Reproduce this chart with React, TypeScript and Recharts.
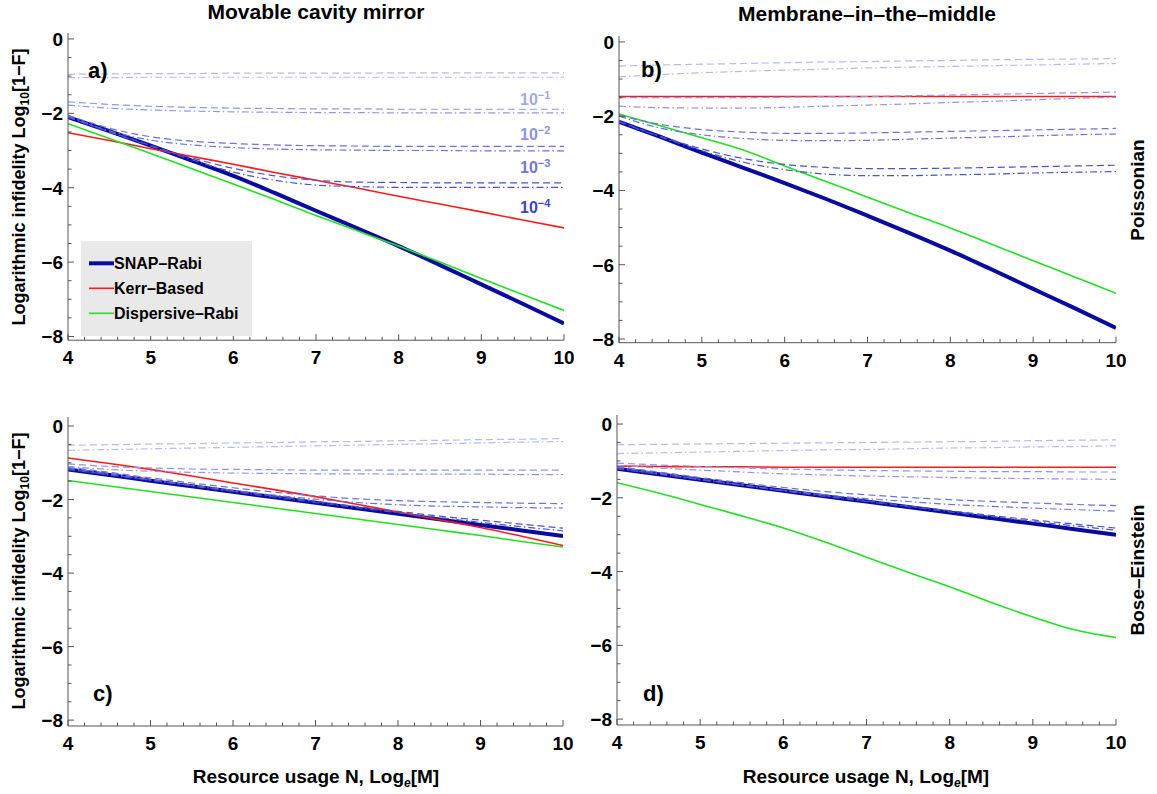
import { LineChart, Line, XAxis, YAxis, Legend } from "recharts";

const FONT = '"Liberation Sans", Arial, Helvetica, sans-serif';
const FRAME = "#555555";
const NAVY = "#0a0a9e";
const RED = "#ff1a1a";
const GREEN = "#22e022";
const NOISE_COLORS = ["#b6baf1", "#9196e6", "#6b72da", "#4a52cd"];
const NOISE_LABEL_COLORS = ["#a4a8ec", "#8e93e4", "#7178d8", "#3d45c6"];
const NOISE_LABELS = ["\u22121", "\u22122", "\u22123", "\u22124"];

// resource usage grid, Log_e[M]
const N = [4, 4.5, 5, 5.5, 6, 6.5, 7, 7.5, 8, 8.5, 9, 9.5, 10];

// a) movable cavity mirror, Poissonian
const A_SNAP = [-2.1, -2.48, -2.87, -3.27, -3.68, -4.14, -4.62, -5.09, -5.57, -6.08, -6.6, -7.12, -7.65];
const A_KERR = [-2.52, -2.73, -2.95, -3.16, -3.37, -3.59, -3.8, -4.01, -4.23, -4.44, -4.65, -4.87, -5.08];
const A_DISP = [-2.28, -2.68, -3.08, -3.49, -3.9, -4.32, -4.75, -5.16, -5.57, -6.0, -6.44, -6.87, -7.3];
const A_DASH_1 = [-0.95, -0.94, -0.93, -0.93, -0.92, -0.92, -0.92, -0.92, -0.91, -0.91, -0.91, -0.91, -0.91];
const A_DOT_1 = [-1.04, -1.04, -1.03, -1.03, -1.03, -1.03, -1.03, -1.03, -1.03, -1.03, -1.03, -1.03, -1.03];
const A_DASH_2 = [-1.69, -1.76, -1.81, -1.84, -1.86, -1.87, -1.88, -1.88, -1.89, -1.89, -1.89, -1.89, -1.89];
const A_DOT_2 = [-1.78, -1.86, -1.91, -1.94, -1.96, -1.97, -1.98, -1.98, -1.99, -1.99, -1.99, -1.99, -1.99];
const A_DASH_3 = [-2.05, -2.4, -2.63, -2.75, -2.81, -2.85, -2.87, -2.88, -2.89, -2.89, -2.89, -2.89, -2.89];
const A_DOT_3 = [-2.07, -2.47, -2.72, -2.85, -2.92, -2.96, -2.98, -2.99, -3.0, -3.0, -3.01, -3.01, -3.01];
const A_DASH_4 = [-2.1, -2.49, -2.86, -3.2, -3.48, -3.68, -3.8, -3.85, -3.86, -3.87, -3.87, -3.87, -3.87];
const A_DOT_4 = [-2.11, -2.5, -2.88, -3.25, -3.58, -3.8, -3.93, -3.97, -3.99, -3.99, -3.99, -3.99, -3.99];

// b) membrane-in-the-middle, Poissonian
const B_SNAP = [-2.15, -2.56, -2.98, -3.39, -3.8, -4.23, -4.68, -5.14, -5.62, -6.13, -6.65, -7.17, -7.7];
const B_KERR = [-1.47, -1.47, -1.47, -1.47, -1.47, -1.47, -1.47, -1.47, -1.47, -1.47, -1.47, -1.47, -1.47];
const B_DISP = [-1.94, -2.26, -2.58, -2.91, -3.34, -3.76, -4.18, -4.6, -5.01, -5.45, -5.89, -6.33, -6.77];
const B_DASH_1 = [-0.65, -0.62, -0.6, -0.58, -0.56, -0.54, -0.53, -0.51, -0.5, -0.48, -0.47, -0.46, -0.45];
const B_DOT_1 = [-0.94, -0.88, -0.83, -0.79, -0.76, -0.73, -0.7, -0.68, -0.66, -0.64, -0.62, -0.6, -0.58];
const B_DASH_2 = [-1.5, -1.5, -1.5, -1.5, -1.49, -1.48, -1.47, -1.45, -1.43, -1.41, -1.39, -1.37, -1.35];
const B_DOT_2 = [-1.73, -1.77, -1.78, -1.78, -1.76, -1.73, -1.7, -1.67, -1.63, -1.6, -1.56, -1.52, -1.49];
const B_DASH_3 = [-1.98, -2.22, -2.36, -2.43, -2.46, -2.46, -2.45, -2.43, -2.41, -2.39, -2.37, -2.35, -2.33];
const B_DOT_3 = [-2.0, -2.32, -2.5, -2.6, -2.65, -2.66, -2.65, -2.62, -2.59, -2.56, -2.53, -2.5, -2.48];
const B_DASH_4 = [-2.14, -2.54, -2.88, -3.14, -3.3, -3.38, -3.41, -3.41, -3.4, -3.38, -3.36, -3.34, -3.32];
const B_DOT_4 = [-2.15, -2.56, -2.93, -3.24, -3.44, -3.56, -3.6, -3.6, -3.58, -3.56, -3.53, -3.51, -3.49];

// c) movable cavity mirror, Bose-Einstein
const C_SNAP = [-1.18, -1.33, -1.49, -1.64, -1.79, -1.94, -2.09, -2.24, -2.39, -2.54, -2.69, -2.84, -2.99];
const C_KERR = [-0.87, -1.02, -1.18, -1.36, -1.55, -1.73, -1.92, -2.13, -2.34, -2.55, -2.76, -3.0, -3.25];
const C_DISP = [-1.48, -1.63, -1.78, -1.93, -2.08, -2.23, -2.38, -2.53, -2.68, -2.83, -2.98, -3.14, -3.29];
const C_DASH_1 = [-0.52, -0.51, -0.49, -0.48, -0.46, -0.45, -0.43, -0.42, -0.4, -0.39, -0.37, -0.36, -0.34];
const C_DOT_1 = [-0.66, -0.64, -0.62, -0.6, -0.58, -0.56, -0.54, -0.52, -0.5, -0.48, -0.46, -0.44, -0.42];
const C_DASH_2 = [-1.03, -1.1, -1.14, -1.17, -1.18, -1.19, -1.2, -1.2, -1.2, -1.2, -1.2, -1.2, -1.2];
const C_DOT_2 = [-1.1, -1.18, -1.23, -1.26, -1.28, -1.29, -1.3, -1.3, -1.31, -1.31, -1.31, -1.32, -1.32];
const C_DASH_3 = [-1.12, -1.26, -1.41, -1.55, -1.68, -1.8, -1.9, -1.98, -2.03, -2.06, -2.08, -2.1, -2.11];
const C_DOT_3 = [-1.14, -1.3, -1.46, -1.61, -1.75, -1.88, -1.99, -2.08, -2.14, -2.18, -2.2, -2.22, -2.23];
const C_DASH_4 = [-1.17, -1.32, -1.47, -1.62, -1.77, -1.91, -2.05, -2.19, -2.32, -2.45, -2.56, -2.67, -2.78];
const C_DOT_4 = [-1.18, -1.33, -1.48, -1.63, -1.78, -1.93, -2.08, -2.22, -2.36, -2.49, -2.62, -2.74, -2.85];

// d) membrane-in-the-middle, Bose-Einstein
const D_SNAP = [-1.21, -1.36, -1.51, -1.66, -1.81, -1.96, -2.1, -2.25, -2.4, -2.55, -2.7, -2.85, -3.0];
const D_KERR = [-1.14, -1.15, -1.16, -1.16, -1.17, -1.17, -1.17, -1.17, -1.17, -1.17, -1.17, -1.17, -1.17];
const D_DISP = [-1.59, -1.87, -2.18, -2.49, -2.82, -3.2, -3.61, -4.02, -4.41, -4.84, -5.23, -5.58, -5.79];
const D_DASH_1 = [-0.56, -0.55, -0.54, -0.53, -0.52, -0.51, -0.5, -0.49, -0.48, -0.47, -0.45, -0.44, -0.43];
const D_DOT_1 = [-0.8, -0.78, -0.76, -0.74, -0.72, -0.7, -0.69, -0.67, -0.65, -0.64, -0.62, -0.61, -0.59];
const D_DASH_2 = [-1.06, -1.11, -1.15, -1.19, -1.22, -1.24, -1.26, -1.27, -1.28, -1.29, -1.29, -1.3, -1.3];
const D_DOT_2 = [-1.12, -1.19, -1.25, -1.3, -1.35, -1.38, -1.41, -1.43, -1.45, -1.47, -1.48, -1.49, -1.5];
const D_DASH_3 = [-1.15, -1.3, -1.45, -1.59, -1.72, -1.83, -1.92, -1.99, -2.05, -2.1, -2.14, -2.18, -2.21];
const D_DOT_3 = [-1.17, -1.33, -1.5, -1.65, -1.8, -1.92, -2.02, -2.1, -2.18, -2.23, -2.28, -2.32, -2.36];
const D_DASH_4 = [-1.2, -1.35, -1.5, -1.65, -1.8, -1.94, -2.08, -2.22, -2.35, -2.48, -2.6, -2.71, -2.82];
const D_DOT_4 = [-1.21, -1.36, -1.51, -1.66, -1.81, -1.96, -2.1, -2.24, -2.38, -2.51, -2.64, -2.76, -2.88];

const X_TICKS = Array.from({ length: 31 }, (_, i) => +(4 + i * 0.2).toFixed(1));
const Y_TICKS = Array.from({ length: 17 }, (_, i) => -i * 0.5);

const LEGEND_ITEMS = [
  { label: "SNAP\u2013Rabi", color: NAVY, width: 4 },
  { label: "Kerr\u2013Based", color: RED, width: 1.6 },
  { label: "Dispersive\u2013Rabi", color: GREEN, width: 1.6 },
];

const TICK_TEXT = { fontFamily: FONT, fontWeight: 700, fontSize: 19, fill: "#000" };

const isMultiple = (v: number, step: number) => Math.abs(v / step - Math.round(v / step)) < 1e-6;
const fmt = (v: number) => (v < 0 ? `\u2212${Math.abs(v)}` : `${Math.abs(v)}`);

function BottomTick(p: any) {
  const v = p.payload.value;
  const major = isMultiple(v, 1);
  return (
    <g>
      <line x1={p.x} x2={p.x} y1={p.y} y2={p.y - (major ? 6 : 3.5)} stroke={FRAME} />
      {major && (
        <text x={p.x} y={p.y + 24} textAnchor="middle" style={TICK_TEXT}>
          {fmt(v)}
        </text>
      )}
    </g>
  );
}

function TopTick(p: any) {
  const major = isMultiple(p.payload.value, 1);
  return <line x1={p.x} x2={p.x} y1={p.y} y2={p.y + (major ? 6 : 3.5)} stroke={FRAME} />;
}

function LeftTick(p: any) {
  const v = p.payload.value;
  const major = isMultiple(v, 2);
  return (
    <g>
      <line x1={p.x} x2={p.x + (major ? 6 : 3.5)} y1={p.y} y2={p.y} stroke={FRAME} />
      {major && (
        <text x={p.x - 5} y={p.y + 7} textAnchor="end" style={TICK_TEXT}>
          {fmt(v)}
        </text>
      )}
    </g>
  );
}

function RightTick(p: any) {
  const major = isMultiple(p.payload.value, 2);
  return <line x1={p.x} x2={p.x - (major ? 6 : 3.5)} y1={p.y} y2={p.y} stroke={FRAME} />;
}

function LegendBox() {
  return (
    <svg width={171} height={95} style={{ display: "block" }}>
      <rect x={0} y={0} width={171} height={95} fill="#e9e9e9" />
      {LEGEND_ITEMS.map((it, i) => (
        <g key={it.label}>
          <line x1={8} x2={33} y1={22.3 + 25 * i} y2={22.3 + 25 * i} stroke={it.color} strokeWidth={it.width} />
          <text x={33} y={28 + 25 * i} style={{ fontFamily: FONT, fontWeight: 700, fontSize: 16, fill: "#000" }}>
            {it.label}
          </text>
        </g>
      ))}
    </svg>
  );
}

type Rect = { x0: number; x1: number; y0: number; y1: number };

const PAD_L = 60;
const PAD_T = 10;
const PAD_R = 10;
const PAD_B = 40;

function Panel(props: {
  rect: Rect;
  domain: [number, number];
  snap: number[];
  kerr: number[];
  disp: number[];
  dash: number[][];
  dot: number[][];
  legend?: boolean;
}) {
  const { rect, domain, snap, kerr, disp, dash, dot, legend } = props;
  const W = rect.x1 - rect.x0 + PAD_L + PAD_R;
  const H = rect.y1 - rect.y0 + PAD_T + PAD_B;
  const left = rect.x0 - PAD_L;
  const top = rect.y0 - PAD_T;
  const rows = N.map((n, i) => {
    const r: Record<string, number> = { n, snap: snap[i], kerr: kerr[i], disp: disp[i] };
    dash.forEach((s, k) => (r[`dash${k}`] = s[i]));
    dot.forEach((s, k) => (r[`dot${k}`] = s[i]));
    return r;
  });
  const common = { xAxisId: "b", yAxisId: "l", type: "monotone" as const, dot: false, isAnimationActive: false, activeDot: false };
  return (
    <div style={{ position: "absolute", left, top, width: W, height: H }}>
      <LineChart width={W} height={H} data={rows} margin={{ top: PAD_T, right: PAD_R, bottom: 0, left: 0 }}>
        <XAxis
          xAxisId="b"
          dataKey="n"
          type="number"
          domain={[4, 10]}
          allowDataOverflow
          ticks={X_TICKS}
          interval={0}
          height={PAD_B}
          tickSize={0}
          tickMargin={0}
          tickLine={false}
          axisLine={{ stroke: FRAME }}
          tick={(p: any) => <BottomTick {...p} />}
        />
        <XAxis
          xAxisId="t"
          orientation="top"
          dataKey="n"
          type="number"
          domain={[4, 10]}
          allowDataOverflow
          ticks={X_TICKS}
          interval={0}
          height={0}
          tickSize={0}
          tickMargin={0}
          tickLine={false}
          axisLine={{ stroke: FRAME }}
          tick={(p: any) => <TopTick {...p} />}
        />
        <YAxis
          yAxisId="l"
          type="number"
          domain={domain}
          allowDataOverflow
          ticks={Y_TICKS}
          interval={0}
          width={PAD_L}
          tickSize={0}
          tickMargin={0}
          tickLine={false}
          axisLine={{ stroke: FRAME }}
          tick={(p: any) => <LeftTick {...p} />}
        />
        <YAxis
          yAxisId="r"
          orientation="right"
          type="number"
          domain={domain}
          allowDataOverflow
          ticks={Y_TICKS}
          interval={0}
          width={0}
          tickSize={0}
          tickMargin={0}
          tickLine={false}
          axisLine={{ stroke: FRAME }}
          tick={(p: any) => <RightTick {...p} />}
        />
        <Line {...common} dataKey="snap" name="SNAP-Rabi" stroke={NAVY} strokeWidth={4} />
        <Line {...common} dataKey="kerr" name="Kerr-Based" stroke={RED} strokeWidth={1.6} />
        <Line {...common} dataKey="disp" name="Dispersive-Rabi" stroke={GREEN} strokeWidth={1.6} />
        {dash.map((_, k) => (
          <Line
            key={`dash${k}`}
            {...common}
            dataKey={`dash${k}`}
            stroke={NOISE_COLORS[k]}
            strokeWidth={1.2}
            strokeDasharray="7 4"
          />
        ))}
        {dot.map((_, k) => (
          <Line
            key={`dot${k}`}
            {...common}
            dataKey={`dot${k}`}
            stroke={NOISE_COLORS[k]}
            strokeWidth={1.2}
            strokeDasharray="7 3 1.5 3"
          />
        ))}
        {legend && (
          <Legend
            layout="vertical"
            align="center"
            verticalAlign="middle"
            wrapperStyle={{ left: 81 - left, top: 241 - top, width: 171, height: 95 }}
            content={() => <LegendBox />}
          />
        )}
      </LineChart>
    </div>
  );
}

const RECT_A: Rect = { x0: 68, x1: 564, y0: 33.3, y1: 340.5 };
const RECT_B: Rect = { x0: 619, x1: 1116, y0: 36, y1: 342.7 };
const RECT_C: Rect = { x0: 68, x1: 563, y0: 416.5, y1: 725.5 };
const RECT_D: Rect = { x0: 617, x1: 1116, y0: 415, y1: 725 };
const TOP_DOMAIN: [number, number] = [-8.1, 0.16];
const BOTTOM_DOMAIN: [number, number] = [-8.16, 0.245];

const BOLD = { fontFamily: FONT, fontWeight: 700, fill: "#000" };

function YTitle({ cy }: { cy: number }) {
  return (
    <text x={25} y={cy} transform={`rotate(-90 25 ${cy})`} textAnchor="middle" style={{ ...BOLD, fontSize: 18 }}>
      Logarithmic infidelity Log
      <tspan dy={4} fontSize={12}>
        10
      </tspan>
      <tspan dy={-4}>[1{"\u2212"}F]</tspan>
    </text>
  );
}

function XTitle({ cx }: { cx: number }) {
  return (
    <text x={cx} y={783} textAnchor="middle" style={{ ...BOLD, fontSize: 19 }}>
      Resource usage N, Log
      <tspan dy={4} fontSize={12} fontStyle="italic">
        e
      </tspan>
      <tspan dy={-4}>[M]</tspan>
    </text>
  );
}

export default function App() {
  const noiseLabelY = [105, 140, 173, 213];
  return (
    <div style={{ position: "absolute", left: 0, top: 0, width: 1157, height: 794, background: "#fff", overflow: "hidden" }}>
      <Panel
        rect={RECT_A}
        domain={TOP_DOMAIN}
        snap={A_SNAP}
        kerr={A_KERR}
        disp={A_DISP}
        dash={[A_DASH_1, A_DASH_2, A_DASH_3, A_DASH_4]}
        dot={[A_DOT_1, A_DOT_2, A_DOT_3, A_DOT_4]}
        legend
      />
      <Panel
        rect={RECT_B}
        domain={TOP_DOMAIN}
        snap={B_SNAP}
        kerr={B_KERR}
        disp={B_DISP}
        dash={[B_DASH_1, B_DASH_2, B_DASH_3, B_DASH_4]}
        dot={[B_DOT_1, B_DOT_2, B_DOT_3, B_DOT_4]}
      />
      <Panel
        rect={RECT_C}
        domain={BOTTOM_DOMAIN}
        snap={C_SNAP}
        kerr={C_KERR}
        disp={C_DISP}
        dash={[C_DASH_1, C_DASH_2, C_DASH_3, C_DASH_4]}
        dot={[C_DOT_1, C_DOT_2, C_DOT_3, C_DOT_4]}
      />
      <Panel
        rect={RECT_D}
        domain={BOTTOM_DOMAIN}
        snap={D_SNAP}
        kerr={D_KERR}
        disp={D_DISP}
        dash={[D_DASH_1, D_DASH_2, D_DASH_3, D_DASH_4]}
        dot={[D_DOT_1, D_DOT_2, D_DOT_3, D_DOT_4]}
      />
      <svg width={1157} height={794} style={{ position: "absolute", left: 0, top: 0, pointerEvents: "none" }}>
        <text x={316} y={19} textAnchor="middle" style={{ ...BOLD, fontSize: 21 }}>
          Movable cavity mirror
        </text>
        <text x={867} y={21} textAnchor="middle" style={{ ...BOLD, fontSize: 21 }}>
          Membrane{"\u2013"}in{"\u2013"}the{"\u2013"}middle
        </text>
        <text x={1144} y={190} transform="rotate(-90 1144 190)" textAnchor="middle" style={{ ...BOLD, fontSize: 19 }}>
          Poissonian
        </text>
        <text x={1144} y={570} transform="rotate(-90 1144 570)" textAnchor="middle" style={{ ...BOLD, fontSize: 19 }}>
          Bose{"\u2013"}Einstein
        </text>
        <YTitle cy={187} />
        <YTitle cy={571} />
        <XTitle cx={316} />
        <XTitle cx={866} />
        <text x={88} y={78} style={{ ...BOLD, fontSize: 22 }}>a)</text>
        <text x={641} y={77} style={{ ...BOLD, fontSize: 22 }}>b)</text>
        <text x={93} y={701} style={{ ...BOLD, fontSize: 22 }}>c)</text>
        <text x={643} y={701} style={{ ...BOLD, fontSize: 22 }}>d)</text>
        {NOISE_LABELS.map((s, k) => (
          <text key={s} x={520} y={noiseLabelY[k]} style={{ ...BOLD, fontSize: 16, fill: NOISE_LABEL_COLORS[k] }}>
            10
            <tspan dy={-6} fontSize={11}>
              {s}
            </tspan>
          </text>
        ))}
      </svg>
    </div>
  );
}
